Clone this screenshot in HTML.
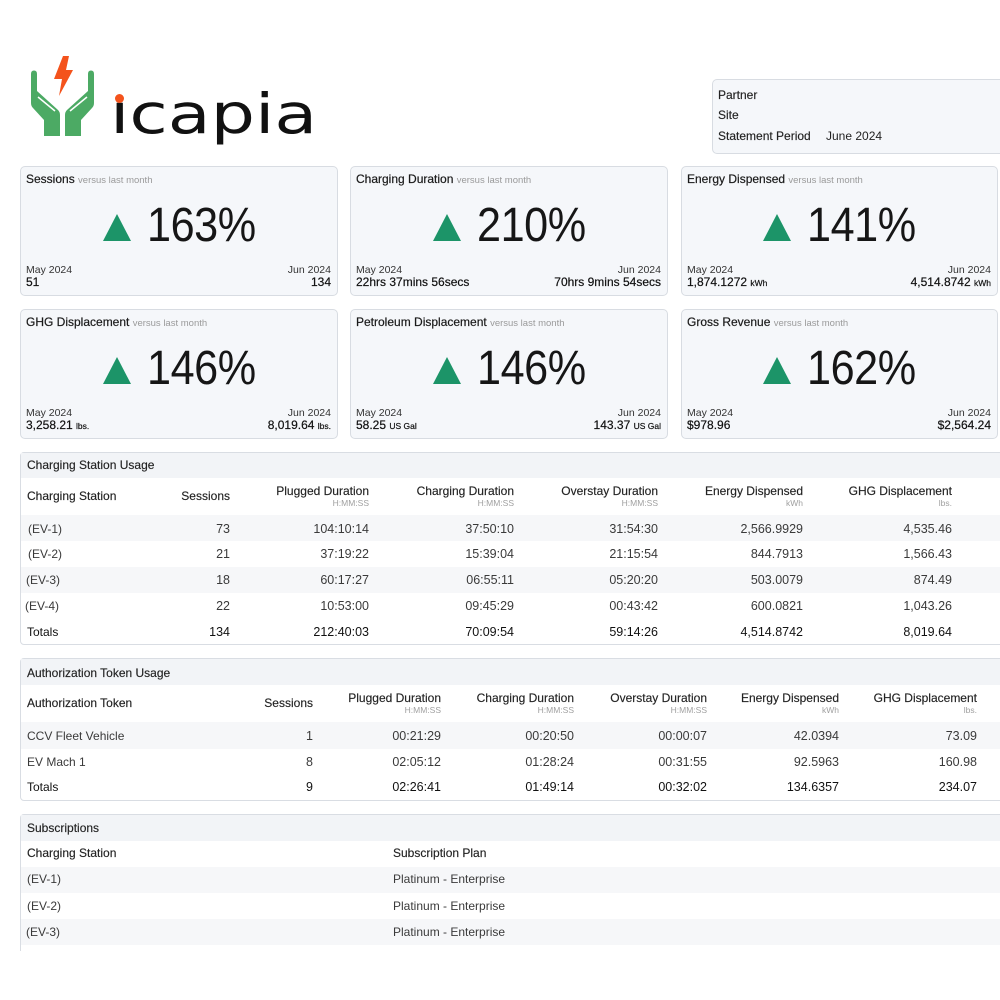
<!DOCTYPE html>
<html><head><meta charset="utf-8"><style>
*{margin:0;padding:0;box-sizing:border-box}
html,body{width:1000px;height:1000px;background:#fff;overflow:hidden}
body{position:relative;font-family:"Liberation Sans",Arial,sans-serif;color:#222}
.abs{position:absolute}
.card{position:absolute;background:#f5f7fa;border:1px solid #d8dce2;border-radius:5px}
.ct{position:absolute;left:5px;top:5px;font-size:12px;line-height:14px;color:#1a1a1a;white-space:nowrap;-webkit-text-stroke:0.2px #1a1a1a}
.vs{font-size:9.5px;color:#9a9a9a;-webkit-text-stroke:0}
.big{position:absolute;left:0;right:0;top:35px;height:48px;display:flex;justify-content:center;align-items:baseline}
.big span{display:inline-block;font-size:48px;line-height:48px;color:#161616;letter-spacing:-0.5px;margin-left:16px;margin-right:-12px;transform:scaleX(0.9);transform-origin:0 50%}
.bl,.br{position:absolute;top:97px;font-size:10.5px;line-height:12px;color:#333;white-space:nowrap}
.bl{left:5px}.br{right:6px;text-align:right}
.bl b,.br b{font-weight:normal;font-size:12px;color:#111;-webkit-text-stroke:0.2px #111}
.u{font-size:8.5px}
.box{position:absolute;left:20px;width:1000px;border:1px solid #d9dde3;border-radius:4px}
.strip{position:absolute;left:21px;width:999px;background:#f2f4f7}
.sh{position:absolute;left:21px;width:999px;height:26px;background:#f6f7f9}
.t{position:absolute;font-size:12px;line-height:14px;color:#3a3a3a;white-space:nowrap}
.n{font-size:12.5px}
.h{color:#222;-webkit-text-stroke:0.15px #222}
.tot{color:#111}
.sub{position:absolute;font-size:8.5px;line-height:9px;color:#a0a0a0;white-space:nowrap}
</style></head><body>

<svg class="abs" style="left:0;top:0" width="130" height="150" viewBox="0 0 130 150">
  <g fill="#4caa64">
    <path d="M31,74 Q31,70.5 34,70.5 Q37,70.5 37,74 L37,91 L58,110 Q60,112 60,115 L60,136 L44,136 L44,120 L33,108 Q31,106 31,103 Z"/>
    <path transform="translate(125,0) scale(-1,1)" d="M31,74 Q31,70.5 34,70.5 Q37,70.5 37,74 L37,91 L58,110 Q60,112 60,115 L60,136 L44,136 L44,120 L33,108 Q31,106 31,103 Z"/>
  </g>
  <g stroke="#fff" stroke-width="1.5">
    <line x1="38" y1="97" x2="55" y2="111"/>
    <line x1="87" y1="97" x2="70" y2="111"/>
  </g>
  <path fill="#f4531c" d="M63,56 L69,56 L66,70 L73,70 L59,96 L62,79 L54,79 Z"/>
</svg>
<div class="abs" style="left:110px;top:79px;font-family:'DejaVu Sans',sans-serif;font-size:55px;line-height:70px;color:#111;transform:scaleX(1.27);transform-origin:0 0;white-space:nowrap">icapia</div>
<div class="abs" style="left:114px;top:88px;width:12px;height:10px;background:#fff"></div>
<div class="abs" style="left:115px;top:94px;width:9px;height:9px;border-radius:50%;background:#f4531c"></div>

<div class="card" style="left:712px;top:79px;width:300px;height:75px"></div>
<div class="t h" style="left:718px;top:88px;color:#222">Partner</div>
<div class="t h" style="left:718px;top:108px;color:#222">Site</div>
<div class="t h" style="left:718px;top:129px;color:#222">Statement Period</div>
<div class="t" style="left:826px;top:129px;color:#222">June 2024</div>

<!-- Row 1 cards -->
<div class="card" style="left:20px;top:166px;width:318px;height:130px">
 <div class="ct">Sessions <span class="vs">versus last month</span></div>
 <div class="big"><svg width="28" height="27" viewBox="0 0 28 27"><path d="M14,0 L28,27 L0,27 Z" fill="#1c9468"/></svg><span>163%</span></div>
 <div class="bl">May 2024<br><b>51</b></div>
 <div class="br">Jun 2024<br><b>134</b></div>
</div>
<div class="card" style="left:350px;top:166px;width:318px;height:130px">
 <div class="ct">Charging Duration <span class="vs">versus last month</span></div>
 <div class="big"><svg width="28" height="27" viewBox="0 0 28 27"><path d="M14,0 L28,27 L0,27 Z" fill="#1c9468"/></svg><span>210%</span></div>
 <div class="bl">May 2024<br><b>22hrs 37mins 56secs</b></div>
 <div class="br">Jun 2024<br><b>70hrs 9mins 54secs</b></div>
</div>
<div class="card" style="left:681px;top:166px;width:317px;height:130px">
 <div class="ct">Energy Dispensed <span class="vs">versus last month</span></div>
 <div class="big"><svg width="28" height="27" viewBox="0 0 28 27"><path d="M14,0 L28,27 L0,27 Z" fill="#1c9468"/></svg><span>141%</span></div>
 <div class="bl">May 2024<br><b>1,874.1272 <span class="u">kWh</span></b></div>
 <div class="br">Jun 2024<br><b>4,514.8742 <span class="u">kWh</span></b></div>
</div>

<!-- Row 2 cards -->
<div class="card" style="left:20px;top:309px;width:318px;height:130px">
 <div class="ct">GHG Displacement <span class="vs">versus last month</span></div>
 <div class="big"><svg width="28" height="27" viewBox="0 0 28 27"><path d="M14,0 L28,27 L0,27 Z" fill="#1c9468"/></svg><span>146%</span></div>
 <div class="bl">May 2024<br><b>3,258.21 <span class="u">lbs.</span></b></div>
 <div class="br">Jun 2024<br><b>8,019.64 <span class="u">lbs.</span></b></div>
</div>
<div class="card" style="left:350px;top:309px;width:318px;height:130px">
 <div class="ct">Petroleum Displacement <span class="vs">versus last month</span></div>
 <div class="big"><svg width="28" height="27" viewBox="0 0 28 27"><path d="M14,0 L28,27 L0,27 Z" fill="#1c9468"/></svg><span>146%</span></div>
 <div class="bl">May 2024<br><b>58.25 <span class="u">US Gal</span></b></div>
 <div class="br">Jun 2024<br><b>143.37 <span class="u">US Gal</span></b></div>
</div>
<div class="card" style="left:681px;top:309px;width:317px;height:130px">
 <div class="ct">Gross Revenue <span class="vs">versus last month</span></div>
 <div class="big"><svg width="28" height="27" viewBox="0 0 28 27"><path d="M14,0 L28,27 L0,27 Z" fill="#1c9468"/></svg><span>162%</span></div>
 <div class="bl">May 2024<br><b>$978.96</b></div>
 <div class="br">Jun 2024<br><b>$2,564.24</b></div>
</div>

<!-- Table 1 -->
<div class="box" style="top:452px;height:193px"></div>
<div class="strip" style="top:453px;height:25px"></div>
<div class="sh" style="top:515px"></div>
<div class="sh" style="top:567px"></div>
<div class="t h" style="left:27px;top:458px">Charging Station Usage</div>
<div class="t h" style="left:27px;top:489px">Charging Station</div>
<div class="t h" style="right:770px;top:489px">Sessions</div>
<div class="t h" style="right:631px;top:484px">Plugged Duration</div><div class="sub" style="right:631px;top:499px">H:MM:SS</div>
<div class="t h" style="right:486px;top:484px">Charging Duration</div><div class="sub" style="right:486px;top:499px">H:MM:SS</div>
<div class="t h" style="right:342px;top:484px">Overstay Duration</div><div class="sub" style="right:342px;top:499px">H:MM:SS</div>
<div class="t h" style="right:197px;top:484px">Energy Dispensed</div><div class="sub" style="right:197px;top:499px">kWh</div>
<div class="t h" style="right:48px;top:484px">GHG Displacement</div><div class="sub" style="right:48px;top:499px">lbs.</div>

<div class="t" style="left:28px;top:522px">(EV-1)</div>
<div class="t n" style="right:770px;top:522px">73</div>
<div class="t n" style="right:631px;top:522px">104:10:14</div>
<div class="t n" style="right:486px;top:522px">37:50:10</div>
<div class="t n" style="right:342px;top:522px">31:54:30</div>
<div class="t n" style="right:197px;top:522px">2,566.9929</div>
<div class="t n" style="right:48px;top:522px">4,535.46</div>

<div class="t" style="left:28px;top:547px">(EV-2)</div>
<div class="t n" style="right:770px;top:547px">21</div>
<div class="t n" style="right:631px;top:547px">37:19:22</div>
<div class="t n" style="right:486px;top:547px">15:39:04</div>
<div class="t n" style="right:342px;top:547px">21:15:54</div>
<div class="t n" style="right:197px;top:547px">844.7913</div>
<div class="t n" style="right:48px;top:547px">1,566.43</div>

<div class="t" style="left:26px;top:573px">(EV-3)</div>
<div class="t n" style="right:770px;top:573px">18</div>
<div class="t n" style="right:631px;top:573px">60:17:27</div>
<div class="t n" style="right:486px;top:573px">06:55:11</div>
<div class="t n" style="right:342px;top:573px">05:20:20</div>
<div class="t n" style="right:197px;top:573px">503.0079</div>
<div class="t n" style="right:48px;top:573px">874.49</div>

<div class="t" style="left:25px;top:599px">(EV-4)</div>
<div class="t n" style="right:770px;top:599px">22</div>
<div class="t n" style="right:631px;top:599px">10:53:00</div>
<div class="t n" style="right:486px;top:599px">09:45:29</div>
<div class="t n" style="right:342px;top:599px">00:43:42</div>
<div class="t n" style="right:197px;top:599px">600.0821</div>
<div class="t n" style="right:48px;top:599px">1,043.26</div>

<div class="t tot" style="left:27px;top:625px">Totals</div>
<div class="t n tot" style="right:770px;top:625px">134</div>
<div class="t n tot" style="right:631px;top:625px">212:40:03</div>
<div class="t n tot" style="right:486px;top:625px">70:09:54</div>
<div class="t n tot" style="right:342px;top:625px">59:14:26</div>
<div class="t n tot" style="right:197px;top:625px">4,514.8742</div>
<div class="t n tot" style="right:48px;top:625px">8,019.64</div>

<!-- Table 2 -->
<div class="box" style="top:658px;height:143px"></div>
<div class="strip" style="top:659px;height:26px"></div>
<div class="sh" style="top:722px;height:27px"></div>
<div class="t h" style="left:27px;top:666px">Authorization Token Usage</div>
<div class="t h" style="left:27px;top:696px">Authorization Token</div>
<div class="t h" style="right:687px;top:696px">Sessions</div>
<div class="t h" style="right:559px;top:691px">Plugged Duration</div><div class="sub" style="right:559px;top:706px">H:MM:SS</div>
<div class="t h" style="right:426px;top:691px">Charging Duration</div><div class="sub" style="right:426px;top:706px">H:MM:SS</div>
<div class="t h" style="right:293px;top:691px">Overstay Duration</div><div class="sub" style="right:293px;top:706px">H:MM:SS</div>
<div class="t h" style="right:161px;top:691px">Energy Dispensed</div><div class="sub" style="right:161px;top:706px">kWh</div>
<div class="t h" style="right:23px;top:691px">GHG Displacement</div><div class="sub" style="right:23px;top:706px">lbs.</div>

<div class="t" style="left:27px;top:729px">CCV Fleet Vehicle</div>
<div class="t n" style="right:687px;top:729px">1</div>
<div class="t n" style="right:559px;top:729px">00:21:29</div>
<div class="t n" style="right:426px;top:729px">00:20:50</div>
<div class="t n" style="right:293px;top:729px">00:00:07</div>
<div class="t n" style="right:161px;top:729px">42.0394</div>
<div class="t n" style="right:23px;top:729px">73.09</div>

<div class="t" style="left:27px;top:755px">EV Mach 1</div>
<div class="t n" style="right:687px;top:755px">8</div>
<div class="t n" style="right:559px;top:755px">02:05:12</div>
<div class="t n" style="right:426px;top:755px">01:28:24</div>
<div class="t n" style="right:293px;top:755px">00:31:55</div>
<div class="t n" style="right:161px;top:755px">92.5963</div>
<div class="t n" style="right:23px;top:755px">160.98</div>

<div class="t tot" style="left:27px;top:780px">Totals</div>
<div class="t n tot" style="right:687px;top:780px">9</div>
<div class="t n tot" style="right:559px;top:780px">02:26:41</div>
<div class="t n tot" style="right:426px;top:780px">01:49:14</div>
<div class="t n tot" style="right:293px;top:780px">00:32:02</div>
<div class="t n tot" style="right:161px;top:780px">134.6357</div>
<div class="t n tot" style="right:23px;top:780px">234.07</div>

<!-- Table 3 -->
<div class="box" style="top:814px;height:137px;border-bottom:none;border-radius:4px 0 0 0"></div>
<div class="strip" style="top:815px;height:26px"></div>
<div class="sh" style="top:867px"></div>
<div class="sh" style="top:919px"></div>
<div class="t h" style="left:27px;top:821px">Subscriptions</div>
<div class="t h" style="left:27px;top:846px">Charging Station</div>
<div class="t h" style="left:393px;top:846px">Subscription Plan</div>
<div class="t" style="left:27px;top:872px">(EV-1)</div>
<div class="t" style="left:393px;top:872px">Platinum - Enterprise</div>
<div class="t" style="left:27px;top:899px">(EV-2)</div>
<div class="t" style="left:393px;top:899px">Platinum - Enterprise</div>
<div class="t" style="left:26px;top:925px">(EV-3)</div>
<div class="t" style="left:393px;top:925px">Platinum - Enterprise</div>

</body></html>
